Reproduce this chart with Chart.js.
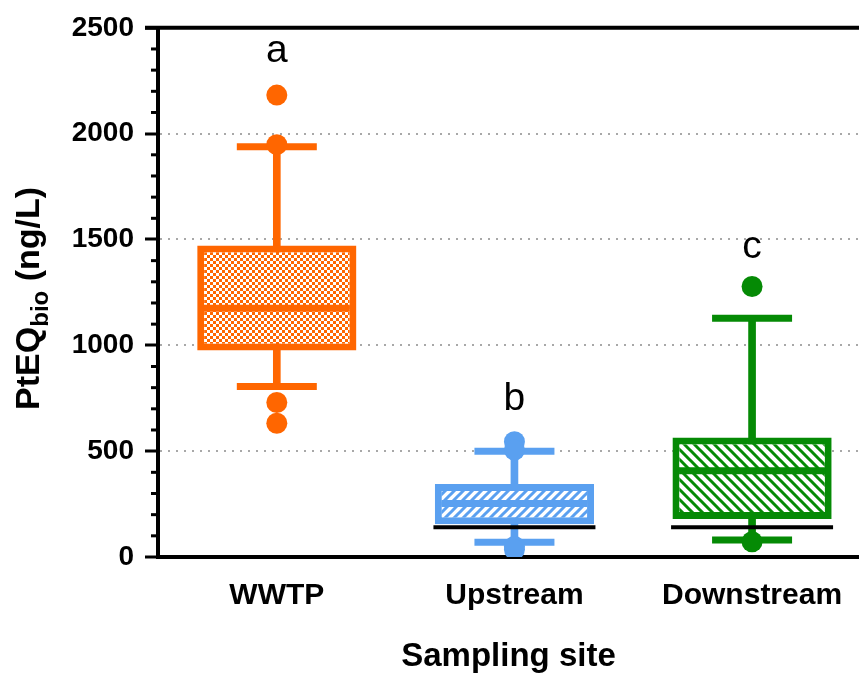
<!DOCTYPE html>
<html>
<head>
<meta charset="utf-8">
<script src="https://cdn.jsdelivr.net/npm/chart.js@4.4.1/dist/chart.umd.min.js"></script>
<style>
  html, body { margin: 0; padding: 0; background: #fff; }
  #wrap { width: 859px; height: 674px; }
</style>
</head>
<body>
<div id="wrap"><canvas id="boxChart" width="859" height="674"></canvas></div>
<script>
// --- Datos ---
const sites = ['WWTP', 'Upstream', 'Downstream'];
const q1 = [975, 155, 180];
const q3 = [1472, 345, 565];
const medians = [1175, 253, 407];
const whiskerLow = [805, 70, 80];
const whiskerHigh = [1938, 500, 1128];
const outliersWWTP = [2182, 1948, 730, 632];
const outliersUpstream = [545, 505, 50, 35];
const outliersDownstream = [1278, 72];
const loqSites = [1, 2];
const loqValues = [140, 140];
const sigLetters = ['a', 'b', 'c'];
const sigY = [2390, 745, 1465];
const yTicksMajor = [0, 500, 1000, 1500, 2000, 2500];

const colors = ['#ff6600', '#5aa0f0', '#058a05'];
const FONT = "'Liberation Sans', Arial, sans-serif";

// --- Patrones de relleno ---
function checkerPattern(color) {
    const c = document.createElement('canvas');
    c.width = 6; c.height = 6;
    const g = c.getContext('2d');
    g.fillStyle = '#fff';
    g.fillRect(0, 0, 6, 6);
    g.fillStyle = color;
    g.fillRect(0, 0, 3, 3);
    g.fillRect(3, 3, 3, 3);
    return g.createPattern(c, 'repeat');
}

function hatchPattern(color, forward, size, width) {
    const c = document.createElement('canvas');
    c.width = size; c.height = size;
    const g = c.getContext('2d');
    g.fillStyle = '#fff';
    g.fillRect(0, 0, size, size);
    g.strokeStyle = color;
    g.lineWidth = width;
    g.beginPath();
    if (forward) {
        // "/"
        g.moveTo(-2, size + 2); g.lineTo(size + 2, -2);
        g.moveTo(-2, 2); g.lineTo(2, -2);
        g.moveTo(size - 2, size + 2); g.lineTo(size + 2, size - 2);
    } else {
        // "\"
        g.moveTo(-2, -2); g.lineTo(size + 2, size + 2);
        g.moveTo(size - 2, -2); g.lineTo(size + 2, 2);
        g.moveTo(-2, size - 2); g.lineTo(2, size + 2);
    }
    g.stroke();
    return g.createPattern(c, 'repeat');
}

const fills = [
    checkerPattern(colors[0]),
    hatchPattern(colors[1], true, 9, 3),
    hatchPattern(colors[2], false, 10, 3)
];

// --- Datos para Chart.js ---
const boxData = sites.map((s, i) => ({ x: i, y: [q1[i], q3[i]] }));
const whiskerData = sites.map((s, i) => ({ x: i, y: [whiskerLow[i], whiskerHigh[i]] }));
const medianData = sites.map((s, i) => ({ x: i, y: medians[i] }));
const capData = sites.flatMap((s, i) => [{ x: i, y: whiskerLow[i] }, { x: i, y: whiskerHigh[i] }]);
const loqData = loqSites.map((s, i) => ({ x: s, y: loqValues[i] }));
const outlierData = [outliersWWTP, outliersUpstream, outliersDownstream]
    .flatMap((vals, i) => vals.map(v => ({ x: i, y: v })));

const colorOf = ctx => colors[ctx.raw ? ctx.raw.x : 0];

// --- Plugins: titulo Y con subindice, letras, ticks menores, linea superior ---
const decorPlugin = {
    id: 'decor',
    afterDraw(chart) {
        const { ctx, chartArea } = chart;
        const xs = chart.scales.x, ys = chart.scales.y;

        // ticks menores
        ctx.save();
        ctx.strokeStyle = '#000';
        ctx.lineWidth = 3;
        for (let v = 0; v <= 2500; v += 100) {
            if (yTicksMajor.includes(v)) continue;
            const py = ys.getPixelForValue(v);
            ctx.beginPath();
            ctx.moveTo(chartArea.left - 7, py);
            ctx.lineTo(chartArea.left, py);
            ctx.stroke();
        }
        // linea superior
        ctx.lineWidth = 4;
        ctx.beginPath();
        ctx.moveTo(chartArea.left - 13, chartArea.top);
        ctx.lineTo(chart.width, chartArea.top);
        ctx.stroke();
        ctx.restore();

        // letras de significancia
        ctx.save();
        ctx.fillStyle = '#000';
        ctx.font = '39px ' + FONT;
        ctx.textAlign = 'center';
        ctx.textBaseline = 'middle';
        sigLetters.forEach((l, i) => {
            ctx.fillText(l, xs.getPixelForValue(i), ys.getPixelForValue(sigY[i]));
        });
        ctx.restore();

        // titulo del eje Y: PtEQ_bio (ng/L)
        ctx.save();
        const mainFont = 'bold 34px ' + FONT;
        const subFont = 'bold 24px ' + FONT;
        ctx.font = mainFont;
        const w1 = ctx.measureText('PtEQ').width;
        const w3 = ctx.measureText(' (ng/L)').width;
        ctx.font = subFont;
        const w2 = ctx.measureText('bio').width;
        const total = w1 + w2 + w3;
        const cy = (chartArea.top + chartArea.bottom) / 2 + 6;
        ctx.translate(39, cy);
        ctx.rotate(-Math.PI / 2);
        ctx.fillStyle = '#000';
        ctx.textBaseline = 'alphabetic';
        ctx.textAlign = 'left';
        let x = -total / 2;
        ctx.font = mainFont;
        ctx.fillText('PtEQ', x, 0);
        x += w1;
        ctx.font = subFont;
        ctx.fillText('bio', x, 9);
        x += w2;
        ctx.font = mainFont;
        ctx.fillText(' (ng/L)', x, 0);
        ctx.restore();
    }
};

const chart = new Chart(document.getElementById('boxChart').getContext('2d'), {
    type: 'bar',
    data: {
        datasets: [
            {
                type: 'scatter',
                data: outlierData,
                pointRadius: 10.5,
                pointBackgroundColor: colorOf,
                pointBorderWidth: 0,
                order: 1
            },
            {
                type: 'scatter',
                data: loqData,
                pointStyle: 'line',
                pointRadius: 81,
                pointBorderColor: '#000',
                pointBorderWidth: 4,
                order: 2
            },
            {
                type: 'scatter',
                data: capData,
                pointStyle: 'line',
                pointRadius: 40,
                pointBorderColor: colorOf,
                pointBorderWidth: 7,
                order: 3
            },
            {
                type: 'scatter',
                data: medianData,
                pointStyle: 'line',
                pointRadius: 73,
                pointBorderColor: colorOf,
                pointBorderWidth: 7,
                order: 4
            },
            {
                data: boxData,
                backgroundColor: fills,
                borderColor: colors,
                borderWidth: 7,
                borderSkipped: false,
                grouped: false,
                barPercentage: 0.67,
                categoryPercentage: 1,
                order: 5
            },
            {
                data: whiskerData,
                backgroundColor: colors,
                borderWidth: 0,
                grouped: false,
                barThickness: 7,
                order: 6
            }
        ]
    },
    options: {
        responsive: false,
        animation: false,
        events: [],
        layout: { autoPadding: false, padding: { top: 23, right: 0, left: 0, bottom: 0 } },
        plugins: {
            legend: { display: false },
            tooltip: { enabled: false }
        },
        scales: {
            x: {
                type: 'linear',
                min: -0.5,
                max: 2.45,
                offset: false,
                afterBuildTicks: scale => {
                    scale.ticks = sites.map((s, i) => ({ value: i }));
                },
                afterFit: scale => { scale.height = 117; },
                grid: { display: false, offset: false },
                border: { display: true, color: '#000', width: 4 },
                ticks: {
                    autoSkip: false,
                    maxRotation: 0,
                    padding: 13,
                    color: '#000',
                    font: { family: FONT, size: 30, weight: 'bold' },
                    callback: v => sites[v]
                },
                title: {
                    display: true,
                    text: 'Sampling site',
                    color: '#000',
                    font: { family: FONT, size: 33, weight: 'bold' },
                    padding: { top: 0, bottom: -3 }
                }
            },
            y: {
                min: 0,
                max: 2500,
                afterFit: scale => { scale.width = 158; },
                ticks: {
                    stepSize: 500,
                    autoSkip: false,
                    padding: 11,
                    color: '#000',
                    font: { family: FONT, size: 28, weight: 'bold' },
                    callback: v => String(v)
                },
                grid: {
                    tickLength: 13,
                    tickWidth: 3,
                    tickColor: '#000',
                    lineWidth: 2,
                    color: ctx => (ctx.tick && ctx.tick.value > 0 && ctx.tick.value < 2500) ? '#a8a8a8' : 'rgba(0,0,0,0)'
                },
                border: { display: true, color: '#000', width: 4, dash: [2, 6] }
            }
        }
    },
    plugins: [decorPlugin]
});
</script>
</body>
</html>
